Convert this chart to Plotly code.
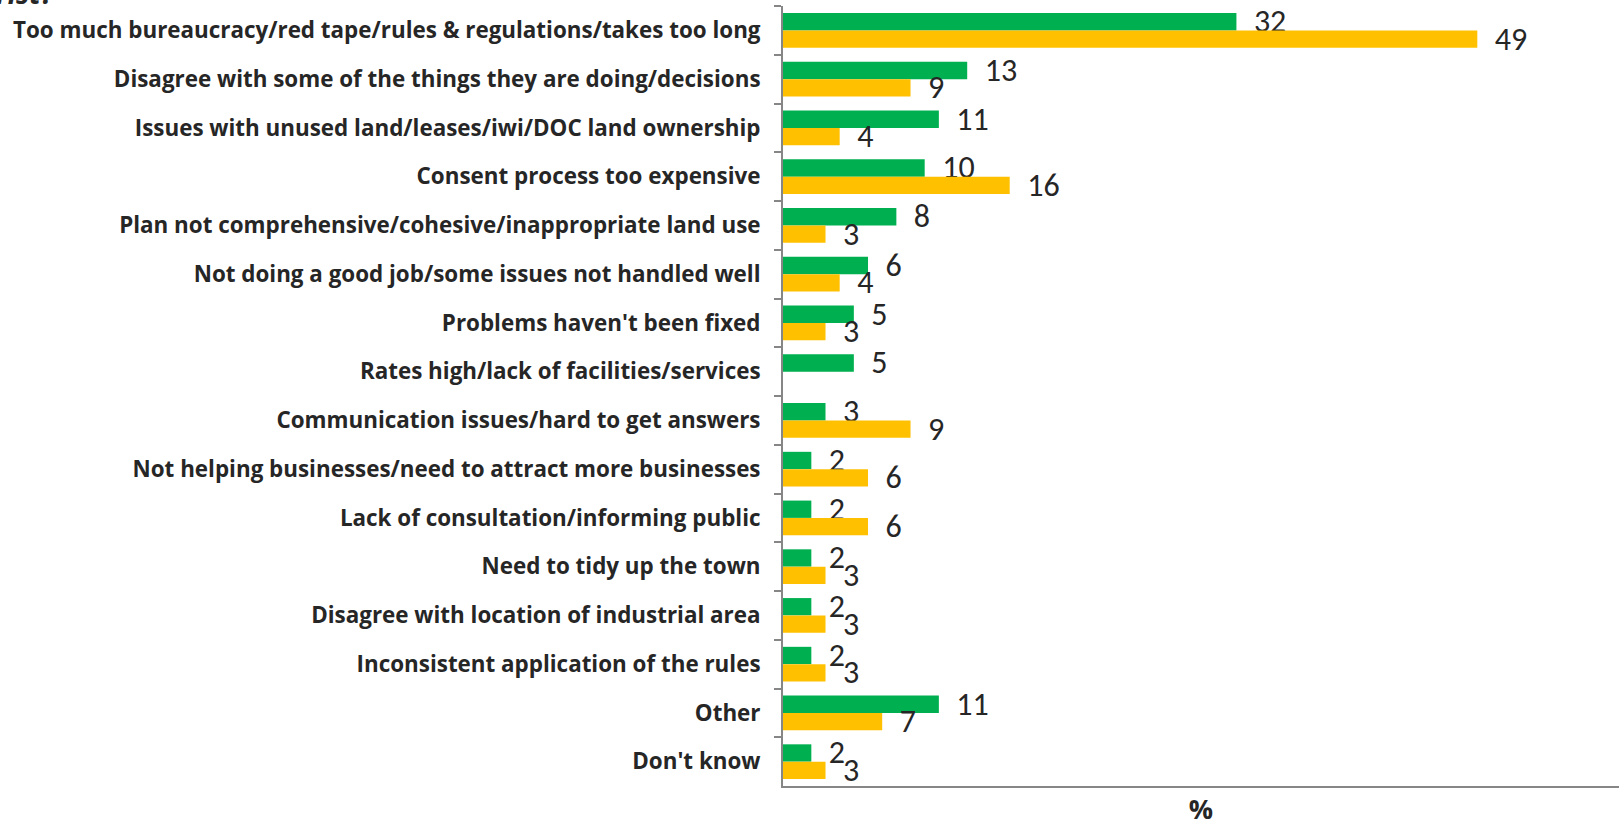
import plotly.graph_objects as go

# Reasons for dissatisfaction, top to bottom
categories = [
    "Too much bureaucracy/red tape/rules & regulations/takes too long",
    "Disagree with some of the things they are doing/decisions",
    "Issues with unused land/leases/iwi/DOC land ownership",
    "Consent process too expensive",
    "Plan not comprehensive/cohesive/inappropriate land use",
    "Not doing a good job/some issues not handled well",
    "Problems haven't been fixed",
    "Rates high/lack of facilities/services",
    "Communication issues/hard to get answers",
    "Not helping businesses/need to attract more businesses",
    "Lack of consultation/informing public",
    "Need to tidy up the town",
    "Disagree with location of industrial area",
    "Inconsistent application of the rules",
    "Other",
    "Don't know",
]

green_values = [32, 13, 11, 10, 8, 6, 5, 5, 3, 2, 2, 2, 2, 2, 11, 2]
yellow_values = [49, 9, 4, 16, 3, 4, 3, None, 9, 6, 6, 3, 3, 3, 7, 3]

GREEN = "#00B050"
YELLOW = "#FFC000"
TEXT = "#262626"
AXIS = "#868686"
LABEL_FONT = "Open Sans, sans-serif"
VALUE_FONT = "Calibri, Carlito, Lato, sans-serif"

W, H = 1619, 827
L, R, T, B = 783, 0, 6, 41


def labels(vals):
    return ["\u00a0\u00a0" + str(v) if v is not None else "" for v in vals]


fig = go.Figure()
fig.add_trace(go.Bar(
    y=categories, x=green_values, orientation="h",
    marker=dict(color=GREEN, line=dict(width=0)),
    text=labels(green_values), textposition="outside",
    textfont=dict(family=VALUE_FONT, size=32, color=TEXT),
    constraintext="none", cliponaxis=False, showlegend=False,
))
fig.add_trace(go.Bar(
    y=categories, x=yellow_values, orientation="h",
    marker=dict(color=YELLOW, line=dict(width=0)),
    text=labels(yellow_values), textposition="outside",
    textfont=dict(family=VALUE_FONT, size=32, color=TEXT),
    constraintext="none", cliponaxis=False, showlegend=False,
))

# cut-off question heading at the very top edge
fig.add_annotation(
    text="<b><i>rist?</i></b>", xref="paper", yref="paper",
    x=-(L + 6) / (W - L - R), xanchor="left",
    y=1 + (T - 14) / (H - T - B), yanchor="bottom",
    showarrow=False, font=dict(family=LABEL_FONT, size=28, color=TEXT),
)

fig.update_layout(
    width=W, height=H,
    margin=dict(l=L, r=R, t=T, b=B, pad=0),
    paper_bgcolor="white", plot_bgcolor="white",
    barmode="group", bargap=0.29, bargroupgap=0,
    xaxis=dict(
        range=[0, 59], showticklabels=False, showgrid=False, zeroline=False,
        showline=True, linecolor=AXIS, linewidth=1.5, ticks="",
        automargin=False,
        title=dict(text="<b>%</b>", font=dict(family=LABEL_FONT, size=27, color=TEXT), standoff=26),
    ),
    yaxis=dict(
        autorange="reversed", showgrid=False, zeroline=False,
        showline=True, linecolor=AXIS, linewidth=2,
        ticks="outside", ticklen=7, tickcolor=AXIS, tickwidth=1.5,
        tickson="boundaries",
        tickfont=dict(family=LABEL_FONT, size=22.4, color=TEXT, weight="bold"),
        ticklabelstandoff=16,
    ),
)

fig.write_html("out.html")
